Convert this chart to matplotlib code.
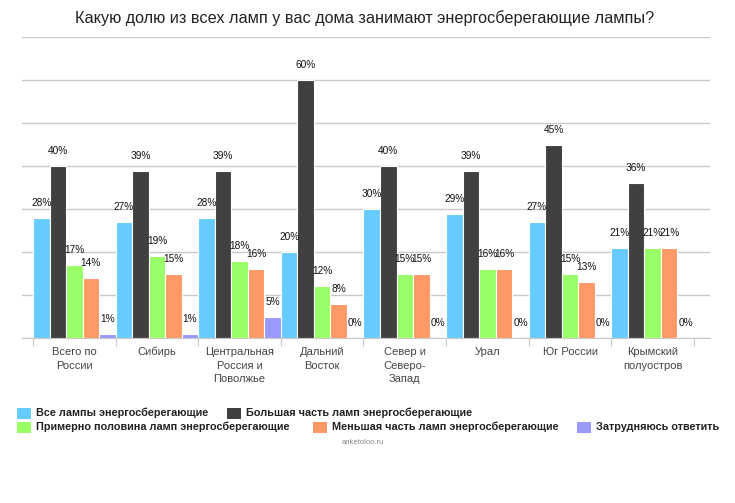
import matplotlib
matplotlib.use("Agg")
import matplotlib.pyplot as plt
from matplotlib.patches import Rectangle
import numpy as np

plt.rcParams['font.family'] = ['Liberation Sans', 'DejaVu Sans']

categories = ["Всего по\nРоссии", "Сибирь", "Центральная\nРоссия и\nПоволжье",
              "Дальний\nВосток", "Север и\nСеверо-\nЗапад", "Урал", "Юг России",
              "Крымский\nполуостров"]
series_names = ["Все лампы энергосберегающие", "Большая часть ламп энергосберегающие",
                "Примерно половина ламп энергосберегающие", "Меньшая часть ламп энергосберегающие",
                "Затрудняюсь ответить"]
all_energy = [28, 27, 28, 20, 30, 29, 27, 21]
most_energy = [40, 39, 39, 60, 40, 39, 45, 36]
half_energy = [17, 19, 18, 12, 15, 16, 15, 21]
less_energy = [14, 15, 16, 8, 15, 16, 13, 21]
hard_answer = [1, 1, 5, 0, 0, 0, 0, 0]
series = [all_energy, most_energy, half_energy, less_energy, hard_answer]
colors = ["#66CCFF", "#404040", "#99FF66", "#FF9966", "#9999FF"]

W, H = 735, 503
fig = plt.figure(figsize=(W / 100, H / 100), dpi=100)
ax = fig.add_axes([22 / W, (H - 338) / H, 688 / W, (338 - 37.5) / H])

n = len(categories)
ns = len(series)
bw = 1.0 / ns
for j, (vals, col) in enumerate(zip(series, colors)):
    xs = np.arange(n) + (j + 0.5) * bw
    ax.bar(xs, vals, width=bw, color=col, edgecolor="white", linewidth=0.8, zorder=3)
    for x, v in zip(xs, vals):
        ax.annotate(f"{v}%", (x, v), xytext=(0, 10.8), textcoords="offset points",
                    ha="center", va="center", fontsize=7.3, color="#111111", zorder=4)

ax.set_xlim(-0.133, n + 0.194)
ax.set_ylim(0, 70)
ax.set_yticks(np.arange(0, 71, 10))
ax.yaxis.grid(True, color="#c8c8c8", linewidth=1)
ax.set_axisbelow(True)
ax.tick_params(axis="y", length=0, labelleft=False)
for s in ["top", "right", "left"]:
    ax.spines[s].set_visible(False)
ax.spines["bottom"].set_color("#c8c8c8")

ax.set_xticks(np.arange(0, n + 1))
ax.set_xticklabels([])
ax.tick_params(axis="x", which="major", length=6, color="#c8c8c8")
ax.set_xticks(np.arange(n) + 0.5, minor=True)
ax.set_xticklabels(categories, minor=True, fontsize=8, color="#444444", linespacing=1.45)
ax.tick_params(axis="x", which="minor", length=0, pad=6.5)

fig.text(364.5 / W, 1 - 18 / H, "Какую долю из всех ламп у вас дома занимают энергосберегающие лампы?",
         ha="center", va="center", fontsize=11.7, color="#222222")

# legend
leg = [(0, 17, 413), (1, 227, 413), (2, 17, 427), (3, 313, 427), (4, 577, 427)]
for idx, x0, yc in leg:
    fig.patches.append(Rectangle((x0 / W, 1 - (yc + 5.5) / H), 14 / W, 11 / H,
                                 transform=fig.transFigure, facecolor=colors[idx],
                                 edgecolor="none"))
    fig.text((x0 + 19) / W, 1 - yc / H, series_names[idx], ha="left", va="center",
             fontsize=7.85, fontweight="bold", color="#222222")

fig.text(363 / W, 1 - 443 / H, "anketoloo.ru", ha="center", va="center",
         fontsize=5.5, color="#888888")

fig.savefig("out.png", dpi=100)
